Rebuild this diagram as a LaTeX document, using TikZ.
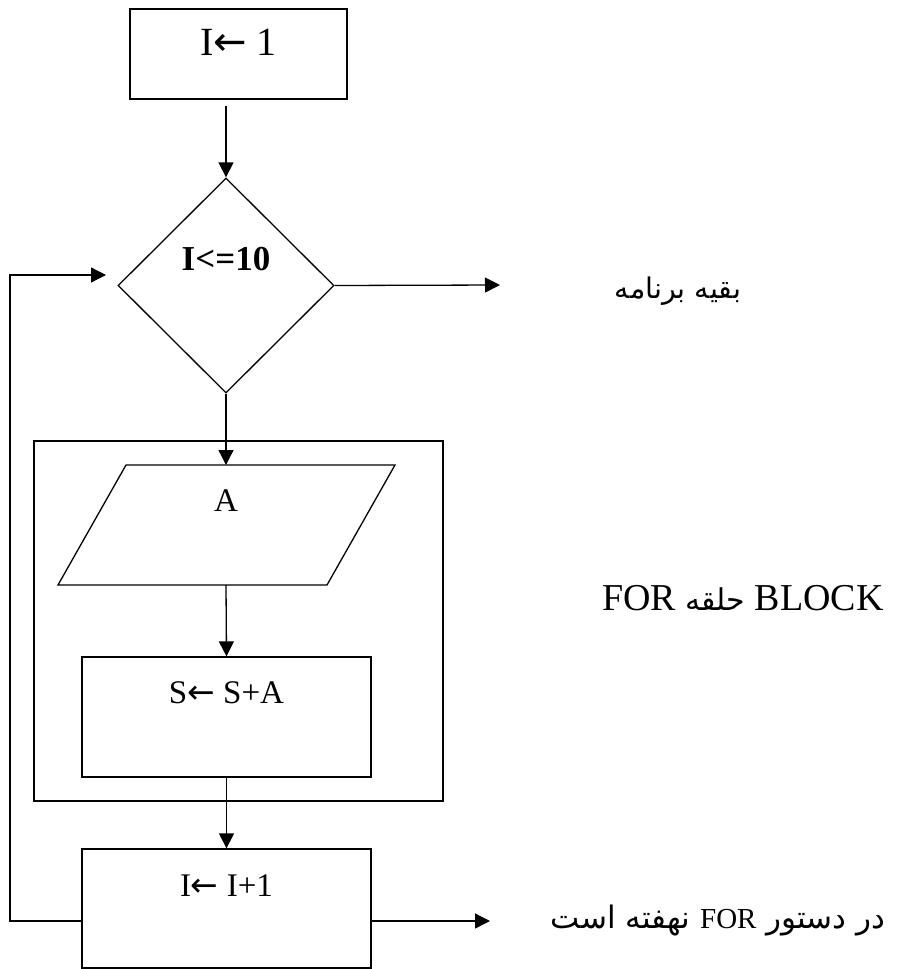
\documentclass[tikz,border=0pt]{standalone}
\usepackage{fontspec}
\setmainfont{Liberation Serif}
\newfontfamily\arabicfont[Script=Arabic]{DejaVu Sans}
\newfontfamily\arrowfont{DejaVu Sans}
\newcommand{\larr}{{\arrowfont ←}}
\TeXXeTstate=1
\usetikzlibrary{arrows.meta,shapes.geometric}
\begin{document}
\begin{tikzpicture}[x=1pt,y=-1pt,line width=1.3pt,
  arr/.style={-{Triangle[length=15pt,width=15pt]}},
  box/.style={draw,rectangle,inner sep=0pt,font=\fontsize{33}{40}\selectfont},
  lbl/.style={anchor=base,inner sep=0pt,font=\fontsize{33}{40}\selectfont}]
\useasboundingbox (0,0) rectangle (899,969);

% outer block
\node[draw,rectangle,inner sep=0pt,minimum width=409pt,minimum height=360pt] (block) at (238.5,621) {};

% init box
\node[box,minimum width=217pt,text height=46pt,text depth=44pt,font=\fontsize{40}{48}\selectfont] (init) at (238.5,54) {I\larr{} 1};

% decision
\node[draw,diamond,inner sep=0pt,minimum width=216pt,minimum height=215pt] (cond) at (226,285.5) {};
\node[lbl,font=\bfseries\fontsize{35}{42}\selectfont] (condtext) at (226,270) {I<=10};

% input parallelogram
\draw (126,465) -- (395,465) -- (327,585) -- (58,585) -- cycle;
\coordinate (paraTop) at (226,465);
\coordinate (paraBot) at (226,585);
\node[lbl] (atext) at (226,511) {A};

% sum box
\node[box,minimum width=289pt,text height=46pt,text depth=74pt] (sum) at (226.5,717) {S\larr{} S+A};

% increment box
\node[box,minimum width=289pt,text height=47pt,text depth=72pt] (incr) at (226.5,908.5) {I\larr{} I+1};

% free ends
\coordinate (loopL) at (10,921);
\coordinate (loopTip) at (106,275);
\coordinate (outTip) at (490,921);
\coordinate (restTip) at (500,285);

% connectors
\draw[arr,shorten <=6pt] (cond.north |- init.south) -- (cond.north);
\draw[arr] (cond.east) -- (restTip);
\draw[arr] (cond.south) -- (paraTop);
\draw[arr] (paraBot) -- (sum.north);
\draw[arr] (sum.south) -- (incr.north);
\draw[arr] (incr.west |- loopL) -- (loopL) |- (loopTip);
\draw[arr] (incr.east |- loopL) -- (outTip);

% side texts
\node[anchor=base,inner sep=0pt,font=\fontsize{28.5}{34}\selectfont\arabicfont] (rest) at (678,298) {\beginR بقيه برنامه\endR};
\node[anchor=base,inner sep=0pt,font=\fontsize{38}{46}\selectfont] (forblock) at (743,610) {FOR {\fontsize{30}{36}\selectfont\arabicfont\beginR حلقه\endR} BLOCK};
\node[anchor=base,inner sep=0pt,font=\fontsize{31}{37}\selectfont\arabicfont] (hidden) at (718,928) {\beginR در دستور \beginL{\fontsize{29}{34}\selectfont\rmfamily FOR}\endL{} نهفته است\endR};
\end{tikzpicture}
\end{document}
